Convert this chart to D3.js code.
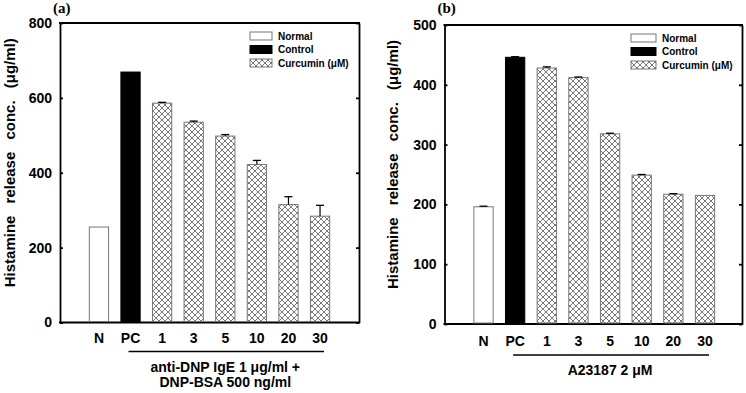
<!DOCTYPE html>
<html>
<head>
<meta charset="utf-8">
<script src="https://cdn.jsdelivr.net/npm/d3@7"></script>
<style>
  body { margin: 0; background: #fff; }
  text { font-family: "Liberation Sans", Arial, sans-serif; font-weight: bold; }
</style>
</head>
<body>
<div id="chart"></div>
<script>
// categories on the x axis, and what kind of bar each one is
const categories = ["N", "PC", "1", "3", "5", "10", "20", "30"];
const kinds = ["normal", "control", "curcumin", "curcumin", "curcumin", "curcumin", "curcumin", "curcumin"];

// panel (a): anti-DNP IgE / DNP-BSA
const valuesA = [255, 669, 586, 535, 498, 422, 315, 284];
const errorsA = [0, 0, 2, 3, 4, 11, 21, 29];
const ticksA = [0, 200, 400, 600, 800];

// panel (b): A23187
const valuesB = [196, 446, 428, 412, 318, 249, 217, 215];
const errorsB = [1, 1, 2, 1, 1, 1, 1, 0];
const ticksB = [0, 100, 200, 300, 400, 500];

const legendLabels = ["Normal", "Control", "Curcumin (\u03bcM)"];
const legendKinds = ["normal", "control", "curcumin"];

const svg = d3.select("#chart")
    .append("svg")
    .attr("width", 746)
    .attr("height", 393);

// cross hatch used for the curcumin bars
const pat = svg.append("defs").append("pattern")
    .attr("id", "hatch")
    .attr("patternUnits", "userSpaceOnUse")
    .attr("width", 6)
    .attr("height", 6);
pat.append("rect").attr("width", 6).attr("height", 6).attr("fill", "white");
pat.append("path")
    .attr("d", "M0,0L6,6M6,0L0,6")
    .attr("stroke", "#6a6a6a")
    .attr("stroke-width", 0.9);

const fillOf = k => k === "normal" ? "white" : k === "control" ? "black" : "url(#hatch)";
const strokeOf = k => k === "control" ? "black" : "#777";

function drawPanel(opt) {
  const g = svg.append("g");
  const {left, right, top, bottom} = opt.frame;

  const x = d3.scaleBand()
      .domain(categories)
      .range(opt.bandRange)
      .padding(0.39);

  const y = d3.scaleLinear()
      .domain([0, d3.max(opt.ticks)])
      .range([bottom, top]);

  // left axis, ticks pointing in
  const yAxis = g.append("g")
      .attr("transform", `translate(${left},0)`)
      .call(d3.axisLeft(y).tickValues(opt.ticks).tickSizeInner(-3).tickSizeOuter(0).tickPadding(8));
  yAxis.selectAll("text").style("font-size", "14px").attr("fill", "black");

  // right axis, no labels
  g.append("g")
      .attr("transform", `translate(${right},0)`)
      .call(d3.axisRight(y).tickValues(opt.ticks).tickSizeInner(-3).tickSizeOuter(0).tickFormat(""));

  g.selectAll(".domain, .tick line").attr("stroke", "black").attr("stroke-width", 1.8);

  // top and bottom of the frame
  g.append("line").attr("x1", left - 1).attr("x2", right + 1).attr("y1", top).attr("y2", top)
      .attr("stroke", "black").attr("stroke-width", 1.8);
  g.append("line").attr("x1", left - 1).attr("x2", right + 1).attr("y1", bottom).attr("y2", bottom)
      .attr("stroke", "black").attr("stroke-width", 1.8);

  // bars
  g.selectAll("rect.bar")
      .data(opt.values)
      .join("rect")
      .attr("class", "bar")
      .attr("x", (d, i) => x(categories[i]))
      .attr("y", d => y(d))
      .attr("width", x.bandwidth())
      .attr("height", d => bottom - 1 - y(d))
      .attr("fill", (d, i) => fillOf(kinds[i]))
      .attr("stroke", (d, i) => strokeOf(kinds[i]))
      .attr("stroke-width", 1);

  // error bars
  const errs = opt.values.map((v, i) => ({c: categories[i], v: v, e: opt.errors[i]})).filter(d => d.e > 0);
  g.selectAll("line.err")
      .data(errs)
      .join("line")
      .attr("class", "err")
      .attr("x1", d => x(d.c) + x.bandwidth() / 2)
      .attr("x2", d => x(d.c) + x.bandwidth() / 2)
      .attr("y1", d => y(d.v))
      .attr("y2", d => y(d.v + d.e))
      .attr("stroke", "black")
      .attr("stroke-width", 1.2);
  g.selectAll("line.cap")
      .data(errs)
      .join("line")
      .attr("class", "cap")
      .attr("x1", d => x(d.c) + x.bandwidth() / 2 - 4)
      .attr("x2", d => x(d.c) + x.bandwidth() / 2 + 4)
      .attr("y1", d => y(d.v + d.e))
      .attr("y2", d => y(d.v + d.e))
      .attr("stroke", "black")
      .attr("stroke-width", 1.3);

  // category labels
  g.selectAll("text.cat")
      .data(categories)
      .join("text")
      .attr("class", "cat")
      .attr("x", d => x(d) + x.bandwidth() / 2)
      .attr("y", bottom + opt.catOffset)
      .attr("text-anchor", "middle")
      .style("font-size", "14px")
      .text(d => d);

  // bracket line under PC..30
  g.append("line")
      .attr("x1", x("PC") + x.bandwidth() / 2 - 2)
      .attr("x2", x("30") + x.bandwidth() / 2 + 4)
      .attr("y1", bottom + opt.catOffset + 9)
      .attr("y2", bottom + opt.catOffset + 9)
      .attr("stroke", "black")
      .attr("stroke-width", 1.4);

  const midX = (x("PC") + x("30") + x.bandwidth()) / 2;
  opt.note.forEach((t, i) => {
    g.append("text")
        .attr("x", midX)
        .attr("y", bottom + opt.catOffset + 29 + i * 15)
        .attr("text-anchor", "middle")
        .style("font-size", "14px")
        .text(t);
  });

  // y title
  g.append("text")
      .attr("transform", `translate(${opt.titleX},${(top + bottom) / 2 - 10}) rotate(-90)`)
      .attr("text-anchor", "middle")
      .style("font-size", "15px")
      .style("word-spacing", "8px")
      .text("Histamine release conc. (\u03bcg/ml)");

  // panel letter
  g.append("text")
      .attr("x", left - 7)
      .attr("y", 13)
      .style("font-family", "'Liberation Serif', 'Times New Roman', serif")
      .style("font-size", "15px")
      .text(opt.letter);

  // legend
  const lg = g.append("g").attr("transform", `translate(${opt.legendX},${top + 13})`);
  legendKinds.forEach((k, i) => {
    lg.append("rect")
        .attr("x", 0)
        .attr("y", i * 13.5 - 4)
        .attr("width", opt.legendW)
        .attr("height", 8)
        .attr("fill", fillOf(k))
        .attr("stroke", strokeOf(k))
        .attr("stroke-width", 1);
    lg.append("text")
        .attr("x", opt.legendW + 6)
        .attr("y", i * 13.5 + 3.5)
        .style("font-size", "10px")
        .text(legendLabels[i]);
  });
}

drawPanel({
  letter: "(a)",
  frame: {left: 60, right: 359, top: 23, bottom: 322.5},
  bandRange: [77, 342],
  values: valuesA, errors: errorsA, ticks: ticksA,
  catOffset: 20,
  note: ["anti-DNP IgE 1 \u03bcg/ml +", "DNP-BSA 500 ng/ml"],
  titleX: 15,
  legendX: 250, legendW: 22
});

drawPanel({
  letter: "(b)",
  frame: {left: 444.5, right: 742, top: 25, bottom: 324},
  bandRange: [461.5, 727],
  values: valuesB, errors: errorsB, ticks: ticksB,
  catOffset: 22,
  note: ["A23187 2 \u03bcM"],
  titleX: 398,
  legendX: 631, legendW: 25
});
</script>
</body>
</html>
